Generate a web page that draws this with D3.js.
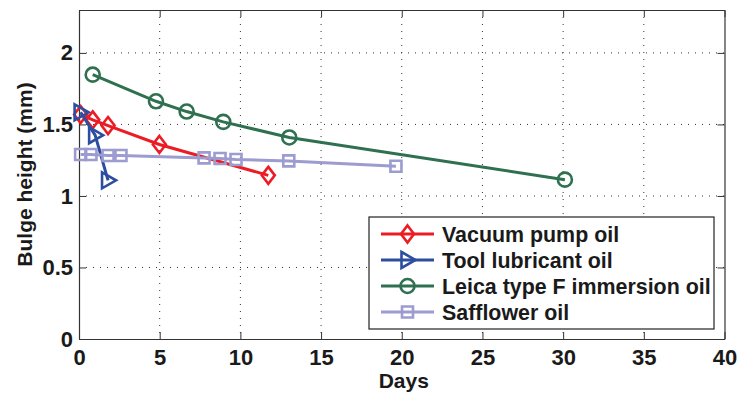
<!DOCTYPE html>
<html><head><meta charset="utf-8">
<script src="https://cdn.jsdelivr.net/npm/d3@7/dist/d3.min.js"></script>
<style>body{margin:0;background:#fff}svg{display:block}text{font-family:"Liberation Sans",Arial,sans-serif;font-weight:bold;fill:#1a1a1a}</style>
</head><body><svg id="c" width="738" height="394"></svg>
<script>
const seriesNames = ["Vacuum pump oil","Tool lubricant oil","Leica type F immersion oil","Safflower oil"];
const seriesColors = ["#ec1c24","#2d4ea0","#2e7050","#9c9cd0"];
const seriesMarkers = ["diamond","triangle","circle","square"];
const vacuumDays = [0.1, 0.85, 1.8, 4.98, 11.73];
const vacuumHeight = [1.569, 1.532, 1.492, 1.36, 1.144];
const toolDays = [0.1, 1.0, 1.8];
const toolHeight = [1.585, 1.425, 1.109];
const leicaDays = [0.85, 4.77, 6.67, 8.94, 13.03, 30.11];
const leicaHeight = [1.848, 1.662, 1.59, 1.518, 1.409, 1.114];
const saffDays = [0.1, 0.74, 1.8, 2.6, 7.75, 8.74, 9.73, 13.0, 19.64];
const saffHeight = [1.29, 1.29, 1.283, 1.283, 1.266, 1.262, 1.255, 1.245, 1.208];
const xTicks = [0,5,10,15,20,25,30,35,40];
const yTicks = [0,0.5,1,1.5,2];
const xLabel = "Days", yLabel = "Bulge height (mm)";

const series = [[vacuumDays,vacuumHeight],[toolDays,toolHeight],[leicaDays,leicaHeight],[saffDays,saffHeight]]
  .map((s,i)=>({name:seriesNames[i],color:seriesColors[i],marker:seriesMarkers[i],pts:s[0].map((d,j)=>[d,s[1][j]])}));

const svg = d3.select("#c");
const L=79,R=724.5,T=10,B=339;
const x = d3.scaleLinear().domain([0,40]).range([L,R]);
const y = d3.scaleLinear().domain([0,2.3]).range([B,T]);

// grid
const g = svg.append("g");
g.selectAll(".gx").data(xTicks.filter(d=>d>0&&d<40)).enter().append("line")
 .attr("x1",d=>x(d)).attr("x2",d=>x(d)).attr("y1",T).attr("y2",B)
 .attr("stroke","#333").attr("stroke-width",1).attr("stroke-dasharray","1,6");
g.selectAll(".gy").data(yTicks.filter(d=>d>0)).enter().append("line")
 .attr("y1",d=>y(d)).attr("y2",d=>y(d)).attr("x1",L).attr("x2",R)
 .attr("stroke","#333").attr("stroke-width",1).attr("stroke-dasharray","1,6");

// axes
const ax = svg.append("g");
ax.append("g").attr("transform",`translate(0,${B})`).call(d3.axisBottom(x).tickValues(xTicks).tickSizeInner(-7).tickSizeOuter(0).tickPadding(10).tickFormat(d3.format("d")));
ax.append("g").attr("transform",`translate(0,${T})`).call(d3.axisTop(x).tickValues(xTicks).tickSizeInner(-7).tickSizeOuter(0).tickFormat(""));
ax.append("g").attr("transform",`translate(${L},0)`).call(d3.axisLeft(y).tickValues(yTicks).tickSizeInner(-7).tickSizeOuter(0).tickPadding(6).tickFormat(d=>d));
ax.append("g").attr("transform",`translate(${R},0)`).call(d3.axisRight(y).tickValues(yTicks).tickSizeInner(-7).tickSizeOuter(0).tickFormat(""));
ax.selectAll("path.domain").attr("stroke","#333").attr("stroke-width",1.2);
ax.selectAll(".tick line").attr("stroke","#333");
ax.selectAll(".tick text").attr("font-size",22).attr("font-family","Liberation Sans, Arial, sans-serif").attr("font-weight","bold").attr("fill","#1a1a1a");

svg.append("text").attr("x",(L+R)/2 + 2).attr("y",388).attr("text-anchor","middle").attr("font-size",21).text(xLabel);
svg.append("text").attr("transform",`translate(32,${(T+B)/2 + 0}) rotate(-90)`).attr("text-anchor","middle").attr("font-size",21).text(yLabel);

function marker(sel,type,color){
  const p = sel.append("path").attr("fill","none").attr("stroke",color).attr("stroke-width",2.6);
  if(type==="diamond") p.attr("d","M0,-8.5L6.5,0L0,8.5L-6.5,0Z");
  else if(type==="triangle") p.attr("d","M-6,-8L8,0L-6,8Z");
  else if(type==="circle") p.attr("d",d3.arc()({innerRadius:0,outerRadius:7,startAngle:0,endAngle:2*Math.PI}));
  else p.attr("d","M-5.5,-5.5H5.5V5.5H-5.5Z");
}

const line = d3.line().x(d=>x(d[0])).y(d=>y(d[1]));
series.forEach(s=>{
  const sg = svg.append("g");
  sg.append("path").attr("d",line(s.pts)).attr("fill","none").attr("stroke",s.color).attr("stroke-width",3);
  s.pts.forEach(p=>{ marker(sg.append("g").attr("transform",`translate(${x(p[0])},${y(p[1])})`),s.marker,s.color); });
});

// legend
const lg = svg.append("g");
lg.append("rect").attr("x",369).attr("y",217).attr("width",345).attr("height",112).attr("fill","#fff").attr("stroke","#222").attr("stroke-width",1.2);
series.forEach((s,i)=>{
  const cy = 234 + i*26;
  lg.append("line").attr("x1",381).attr("x2",434).attr("y1",cy).attr("y2",cy).attr("stroke",s.color).attr("stroke-width",3);
  marker(lg.append("g").attr("transform",`translate(407.5,${cy})`),s.marker,s.color);
  lg.append("text").attr("x",442).attr("y",cy+7.5).attr("font-size",21.4).text(s.name);
});
</script></body></html>
